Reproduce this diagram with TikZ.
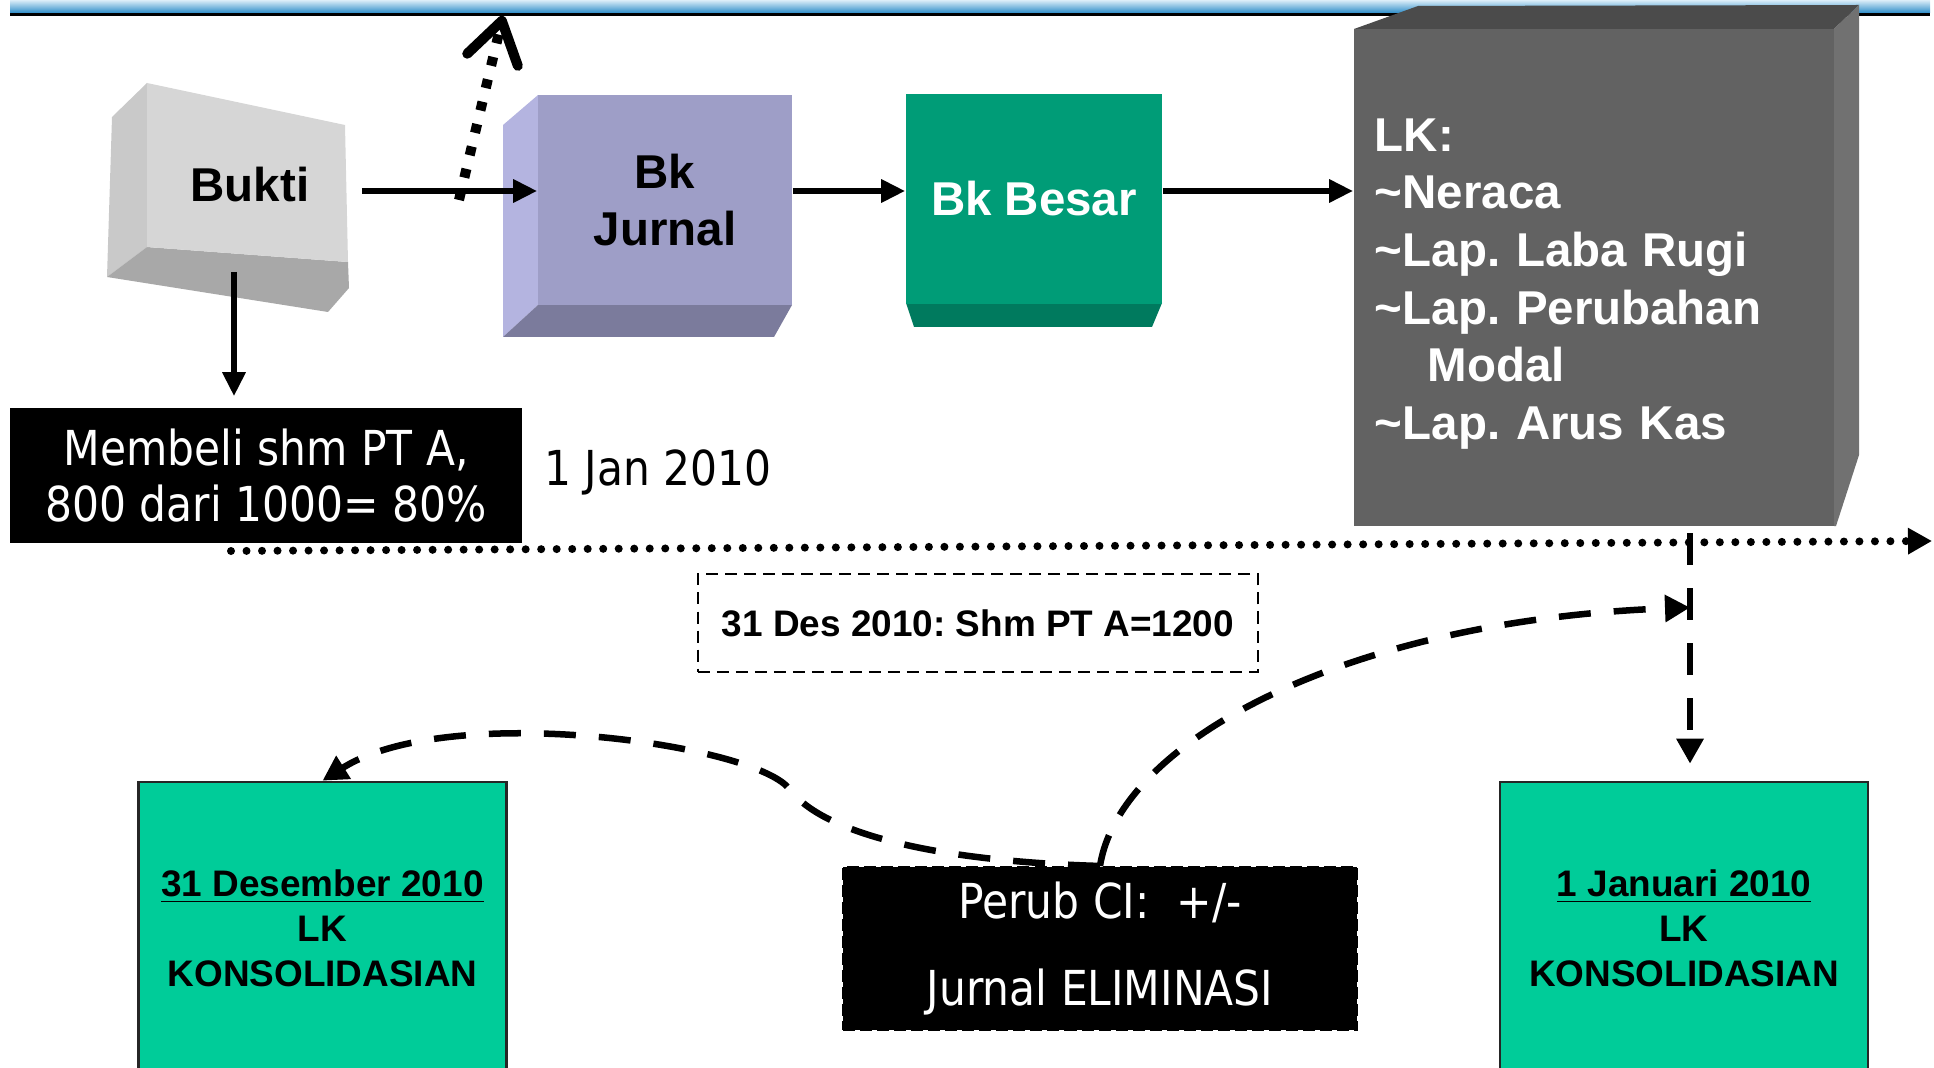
\documentclass[tikz,border=0pt]{standalone}
\usepackage{fontspec}
\setmainfont{Liberation Sans}
\newfontfamily\tahoma{DejaVu Sans}[FakeStretch=0.88]
\usetikzlibrary{arrows.meta,calc,positioning}
\definecolor{grfront}{HTML}{D6D6D6}
\definecolor{grside}{HTML}{C9C9C9}
\definecolor{grbottom}{HTML}{A8A8A8}
\definecolor{jrfront}{HTML}{9E9EC7}
\definecolor{jrside}{HTML}{B4B4E0}
\definecolor{jrbottom}{HTML}{7B7B9C}
\definecolor{bbfront}{HTML}{009C77}
\definecolor{bbbottom}{HTML}{007A5E}
\definecolor{lkfront}{HTML}{626262}
\definecolor{lktop}{HTML}{4B4B4B}
\definecolor{lkside}{HTML}{717171}
\definecolor{konsol}{HTML}{00CC99}
\definecolor{barhi}{HTML}{DCEEF9}
\definecolor{barlo}{HTML}{2E8DC8}
\frenchspacing

\begin{document}
\begin{tikzpicture}[x=0.01cm,y=-0.01cm,>={Triangle[length=0.24cm,width=0.22cm]},
  bigtext/.style={font=\fontsize{13.5}{16.4}\selectfont\bfseries},
  smalltext/.style={font=\fontsize{10.5}{12.8}\selectfont\bfseries},
  plaintext/.style={font=\fontsize{13.7}{15.9}\selectfont\tahoma},
  flow/.style={->,line width=0.06cm},
  dashline/.style={line width=0.065cm,dash pattern=on 0.32cm off 0.23cm,
    -{Triangle[length=0.25cm,width=0.26cm]}},
  konsolbox/.style={smalltext,draw=black!85,line width=0.025cm,fill=konsol,
    minimum width=3.68cm,minimum height=2.92cm,align=center}]
  \useasboundingbox (0,0) rectangle (1934,1067);

  % Top bar
  \shade[top color=barhi,bottom color=barlo] (10,0) rectangle (1930,13);
  \draw[line width=0.03cm] (10,14.5) -- (1930,14.5);

  % Bukti
  \fill[grside] (112,117) -- (147,83) -- (147,247) -- (107,277) -- cycle;
  \fill[grbottom] (147,247) -- (348,262) -- (349,288) -- (328,312) -- (107,277) -- cycle;
  \fill[grfront] (147,83) -- (345,125) -- (348,262) -- (147,247) -- cycle;
  \node[bigtext,minimum width=2.22cm,minimum height=1.72cm] (bukti) at (250,185) {Bukti};

  % Bk Jurnal
  \fill[jrside] (503,125) -- (538,95) -- (538,305) -- (503,337) -- cycle;
  \fill[jrbottom] (538,305) -- (792,305) -- (774,337) -- (503,337) -- cycle;
  \node[bigtext,fill=jrfront,minimum width=2.54cm,minimum height=2.1cm,align=center] (jurnal) at (665,200) {Bk\\Jurnal};

  % Bk Besar
  \fill[bbbottom] (906,303) -- (1162,303) -- (1152,327) -- (914,327) -- cycle;
  \node[bigtext,text=white,fill=bbfront,minimum width=2.56cm,minimum height=2.1cm] (besar) at (1034,199) {Bk Besar};

  % LK box
  \fill[lktop] (1354,29) -- (1418,6) -- (1859,5) -- (1834,29) -- cycle;
  \fill[lkside] (1834,29) -- (1859,5) -- (1859,455) -- (1836,526) -- (1834,526) -- cycle;
  \fill[lkfront] (1354,29) rectangle (1834,526);
  \node[bigtext,text=white,minimum width=4.8cm,minimum height=4.97cm,
    text width=4.38cm,inner xsep=0.21cm,align=left] (lk) at (1594,284)
    {LK:\\\textasciitilde Neraca\\\textasciitilde Lap. Laba Rugi\\\textasciitilde Lap. Perubahan\\\hspace*{0.53cm}Modal\\\textasciitilde Lap. Arus Kas};

  % Purchase
  \node[plaintext,text=white,fill=black,minimum width=5.12cm,minimum height=1.35cm,align=center] (beli) at (266,475.5) {Membeli shm PT A,\\800 dari 1000= 80\%};
  \node[plaintext] (tgl) at (658,472) {1 Jan 2010};
  \draw[flow,shorten >=0.11cm] ([xshift=-0.16cm]bukti.south) -- ([xshift=-0.16cm]bukti.south |- beli.north);

  % Timeline
  \coordinate (t0) at (231,551);
  \coordinate (t1) at (1932,541);
  \draw[line width=0.08cm,line cap=round,dash pattern=on 0pt off 0.155cm,
    -{Triangle[length=0.24cm,width=0.25cm]}] (t0) -- (t1);

  % Main flow
  \coordinate (row) at (250,191);
  \draw[flow] (bukti.east |- row) -- (jurnal.west |- row);
  \draw[flow] (jurnal.east |- row) -- (besar.west |- row);
  \draw[flow] (besar.east |- row) -- (lk.west |- row);

  % Dotted arrow up
  \coordinate (up0) at (459,200);
  \coordinate (up1) at (503,16);
  \draw[line width=0.1cm,dash pattern=on 0.09cm off 0.14cm,
    -{Straight Barb[length=0.4cm,width=0.52cm,round]}] (up0) -- (up1);

  % Notes
  \node[smalltext,draw,dash pattern=on 0.12cm off 0.07cm,line width=0.02cm,
    minimum width=5.6cm,minimum height=0.97cm] (shm) at (978,623) {31 Des 2010: Shm PT A=1200};
  \node[plaintext,font=\fontsize{13.7}{24.5}\selectfont\tahoma,text=white,fill=black,draw,
    dash pattern=on 0.12cm off 0.05cm,line width=0.02cm,minimum width=5.13cm,
    minimum height=1.63cm,align=center] (elim) at (1100,948.5) {Perub CI:\ \ +/-\\Jurnal ELIMINASI};

  % Consolidated statements
  \node[konsolbox] (des) at (322.5,928) {\underline{31 Desember 2010}\\LK\\KONSOLIDASIAN};
  \node[konsolbox] (jan) at (1684,928) {\underline{1 Januari 2010}\\LK\\KONSOLIDASIAN};

  % Dashed links
  \coordinate (drop) at ([xshift=0.06cm]jan.north |- lk.south);
  \draw[dashline,shorten >=0.17cm] (drop) -- ([xshift=0.06cm]jan.north);
  \coordinate (hit) at ($(drop)!0.3!([xshift=0.06cm]jan.north)$);
  \draw[dashline] (elim.north) .. controls (1120,740) and (1350,620) .. (hit);
  \draw[dashline] (elim.north) .. controls (960,862) and (830,840) .. (790,790)
    .. controls (760,745) and (450,700) .. (des.north);
\end{tikzpicture}
\end{document}
